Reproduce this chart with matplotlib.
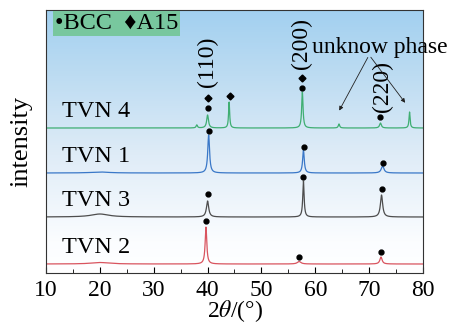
import numpy as np
import matplotlib
matplotlib.use('Agg')
import matplotlib.pyplot as plt
from matplotlib.colors import LinearSegmentedColormap

plt.rcParams['font.family'] = ['Liberation Serif', 'DejaVu Serif']
plt.rcParams['mathtext.fontset'] = 'stix'

# samples, bottom to top, with vertical offsets
samples = ['TVN 2', 'TVN 3', 'TVN 1', 'TVN 4']
colors = ['#d9545f', '#4d4d4d', '#3a78c8', '#3fae72']
offsets = [9, 56, 100, 145]

# peak positions (2theta), heights and half widths for each pattern
peak_pos = {
    'TVN 2': [39.7, 57.0, 72.2, 20.0],
    'TVN 3': [40.0, 57.8, 72.3, 20.0],
    'TVN 1': [40.2, 57.8, 72.5, 20.0],
    'TVN 4': [40.0, 44.0, 57.6, 64.4, 72.1, 77.5, 38.0],
}
peak_h = {
    'TVN 2': [37, 2.5, 7, 1.5],
    'TVN 3': [16, 36, 22, 3],
    'TVN 1': [38, 23, 7, 1],
    'TVN 4': [13, 26, 36, 4, 5, 16, 3],
}
peak_w = {
    'TVN 2': [0.18, 0.4, 0.25, 2.0],
    'TVN 3': [0.25, 0.15, 0.25, 2.0],
    'TVN 1': [0.2, 0.18, 0.3, 2.0],
    'TVN 4': [0.2, 0.12, 0.15, 0.15, 0.2, 0.12, 0.15],
}

# phase markers: (2theta, height above baseline)
bcc_marks = {
    'TVN 2': [(39.7, 43), (56.9, 7), (72.2, 12)],
    'TVN 3': [(40.0, 23), (57.8, 40), (72.4, 28)],
    'TVN 1': [(40.2, 42), (57.9, 26), (72.6, 10)],
    'TVN 4': [(40.0, 20), (57.6, 40), (72.1, 11)],
}
a15_marks = [(40.0, 30), (44.1, 32), (57.6, 50)]

hkl_labels = ['(110)', '(200)', '(220)']
hkl_pos = [(39.9, 186), (57.5, 204), (72.4, 161)]

x = np.linspace(10, 80, 3000)

fig = plt.figure(figsize=(4.5, 3.26), dpi=100)
ax = fig.add_axes([46 / 450, 53 / 326, 377 / 450, 263 / 326])
ax.set_xlim(10, 80)
ax.set_ylim(0, 263)

# background gradient, sky blue at top fading to white
cmap = LinearSegmentedColormap.from_list(
    'bg', [(0, '#ffffff'), (0.12, '#fbfdff'), (0.45, '#dfecf7'), (0.75, '#bddcf2'), (1, '#a2d0f0')])
grad = np.linspace(0, 1, 256).reshape(-1, 1)
ax.imshow(grad, aspect='auto', cmap=cmap, origin='lower', extent=[10, 80, 0, 263], zorder=0)

for name, c, off in zip(samples, colors, offsets):
    y = np.zeros_like(x)
    for p, h, w in zip(peak_pos[name], peak_h[name], peak_w[name]):
        y += h * w ** 2 / ((x - p) ** 2 + w ** 2)
    ax.plot(x, y + off, color=c, lw=0.9, zorder=2)
    ax.text(13.0, off + 6, name, fontsize=17.5, ha='left', va='bottom', zorder=3)
    for p, h in bcc_marks[name]:
        ax.plot(p, off + h, 'o', color='black', ms=3.5, zorder=3)

for p, h in a15_marks:
    ax.plot(p, offsets[3] + h, 'D', color='black', ms=3.5, zorder=3)

for lab, (p, yy) in zip(hkl_labels, hkl_pos):
    ax.text(p, yy, lab, rotation=90, fontsize=17, ha='center', va='bottom', zorder=3)

# legend box
ax.text(11.7, 249.5, '\u2022BCC  \u2666A15', fontsize=17.5, ha='left', va='center',
        bbox=dict(boxstyle='square,pad=0.08', fc='#78c79e', ec='none'), zorder=4)

# unknown phase annotation
ax.annotate('', xy=(64.2, 160), xytext=(70.0, 218),
            arrowprops=dict(arrowstyle='-|>', color='#222222', lw=0.6, mutation_scale=6), zorder=4)
ax.annotate('', xy=(77.0, 168), xytext=(70.0, 218),
            arrowprops=dict(arrowstyle='-|>', color='#222222', lw=0.6, mutation_scale=6), zorder=4)
ax.text(59.4, 226, 'unknow phase', fontsize=17, ha='left', va='center', zorder=4, clip_on=False)

ax.set_xticks(range(10, 81, 10))
ax.set_xticks(range(15, 80, 10), minor=True)
ax.set_yticks([])
ax.tick_params(axis='x', which='both', direction='in', labelsize=17, pad=5)
ax.tick_params(axis='x', which='major', length=4)
ax.tick_params(axis='x', which='minor', length=3)
ax.set_xlabel(r'2$\theta$/(°)', fontsize=17, labelpad=-2)
ax.set_ylabel('intensity', fontsize=19, labelpad=10)
for s in ax.spines.values():
    s.set_color('#333333')

fig.savefig('out.png', dpi=100)
